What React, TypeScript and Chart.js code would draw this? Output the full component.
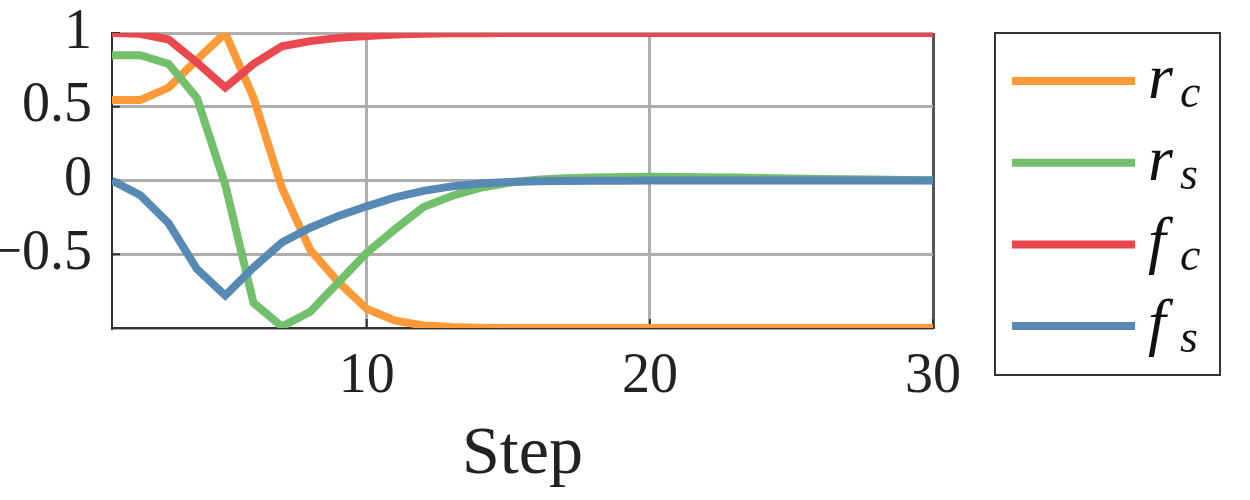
import React, { useEffect, useRef } from 'react';
import { Chart, registerables } from 'chart.js';

Chart.register(...registerables);

const steps = [1, 2, 3, 4, 5, 6, 7, 8, 9, 10, 11, 12, 13, 14, 15, 16, 17, 18, 19, 20, 21, 22, 23, 24, 25, 26, 27, 28, 29, 30];

const rC = [0.545, 0.545, 0.63, 0.82, 1.0, 0.56, -0.05, -0.47, -0.69, -0.87, -0.95, -0.983, -0.994, -0.998, -1, -1, -1, -1, -1, -1, -1, -1, -1, -1, -1, -1, -1, -1, -1, -1];
const rS = [0.85, 0.85, 0.79, 0.56, -0.03, -0.83, -0.99, -0.89, -0.69, -0.49, -0.33, -0.18, -0.105, -0.05, -0.015, 0.005, 0.015, 0.02, 0.024, 0.025, 0.024, 0.022, 0.02, 0.017, 0.014, 0.011, 0.008, 0.006, 0.004, 0.002];
const fC = [1.0, 0.995, 0.956, 0.8, 0.63, 0.79, 0.91, 0.945, 0.967, 0.98, 0.99, 0.995, 0.998, 0.999, 1, 1, 1, 1, 1, 1, 1, 1, 1, 1, 1, 1, 1, 1, 1, 1];
const fS = [0, -0.1, -0.29, -0.6, -0.78, -0.59, -0.42, -0.32, -0.24, -0.175, -0.115, -0.07, -0.04, -0.02, -0.01, -0.005, -0.003, -0.002, -0.001, 0, 0, 0, 0, 0, 0, 0, 0, 0, 0, 0];

const seriesNames = ['r_c', 'r_s', 'f_c', 'f_s'];
const seriesValues = [rC, rS, fC, fS];
const seriesColors = ['#fd9a37', '#72bf6c', '#e8484e', '#5689b3'];

const xTicks = [10, 20, 30];
const yTicks = [-0.5, 0, 0.5, 1];
const xAxisTitle = 'Step';

const SERIF = '"Liberation Serif"';
Chart.defaults.font.family = SERIF;

const innerTicksPlugin = {
  id: 'innerTicks',
  beforeDatasetsDraw(chart: any) {
    const { ctx, chartArea, scales } = chart;
    ctx.save();
    ctx.strokeStyle = '#333';
    ctx.lineWidth = 2;
    ctx.beginPath();
    yTicks.forEach((v) => {
      const y = scales.y.getPixelForValue(v);
      ctx.moveTo(chartArea.left, y);
      ctx.lineTo(chartArea.left + 8, y);
    });
    xTicks.forEach((v) => {
      const x = scales.x.getPixelForValue(v);
      ctx.moveTo(x, chartArea.bottom);
      ctx.lineTo(x, chartArea.bottom - 9);
    });
    ctx.stroke();
    ctx.restore();
  },
};

const mathLegendPlugin = {
  id: 'mathLegend',
  afterDraw(chart: any) {
    const { ctx, chartArea } = chart;
    ctx.save();
    const boxL = chartArea.right + 62;
    const boxT = chartArea.top;
    const boxR = boxL + 225;
    const boxB = boxT + 342;
    ctx.fillStyle = '#fff';
    ctx.fillRect(boxL, boxT, boxR - boxL, boxB - boxT);
    ctx.strokeStyle = '#333';
    ctx.lineWidth = 2;
    ctx.strokeRect(boxL, boxT, boxR - boxL, boxB - boxT);
    chart.data.datasets.forEach((ds: any, i: number) => {
      const y = boxT + 48 + i * 81.7;
      ctx.strokeStyle = ds.borderColor;
      ctx.lineWidth = 8;
      ctx.beginPath();
      ctx.moveTo(boxL + 17, y);
      ctx.lineTo(boxL + 140, y);
      ctx.stroke();
      const [base, sub] = String(ds.label).split('_');
      ctx.fillStyle = '#111';
      ctx.textBaseline = 'alphabetic';
      ctx.textAlign = 'left';
      ctx.font = 'italic 64px "Liberation Serif"';
      ctx.fillText(base, boxL + 153, y + 17);
      ctx.font = 'italic 46px "Liberation Serif"';
      ctx.fillText(sub, boxL + 185, y + 26);
    });
    ctx.restore();
  },
};

export default function App() {
  const canvasRef = useRef<HTMLCanvasElement | null>(null);

  useEffect(() => {
    if (!canvasRef.current) return;
    const chart = new Chart(canvasRef.current, {
      type: 'line',
      data: {
        datasets: seriesNames.map((name, i) => ({
          label: name,
          data: steps.map((s, j) => ({ x: s, y: seriesValues[i][j] })),
          borderColor: seriesColors[i],
          backgroundColor: seriesColors[i],
          borderWidth: 8,
          pointRadius: 0,
          tension: 0,
          order: 4 - i,
          borderJoinStyle: 'miter' as const,
        })),
      },
      options: {
        animation: false,
        responsive: false,
        layout: { padding: { left: 0, top: 33, right: 317, bottom: 0 } },
        plugins: {
          legend: { display: false },
          tooltip: { enabled: false },
        },
        scales: {
          x: {
            type: 'linear',
            min: 1,
            max: 30,
            afterBuildTicks: (scale: any) => {
              scale.ticks = xTicks.map((v) => ({ value: v }));
            },
            afterFit: (scale: any) => {
              scale.height = 172;
              scale.paddingLeft = 0;
              scale.paddingRight = 0;
            },
            grid: {
              drawTicks: false,
              color: (c: any) => (c.tick && c.tick.value === 30 ? '#555' : '#aeaeae'),
              lineWidth: 3,
            },
            border: { display: true, color: '#333', width: 2 },
            ticks: {
              padding: 16,
              color: '#222',
              font: { family: SERIF, size: 56 },
              maxRotation: 0,
              callback: (v: any) => String(v),
            },
            title: {
              display: true,
              text: xAxisTitle,
              color: '#222',
              font: { family: SERIF, size: 68 },
              padding: { top: 0, bottom: 4 },
            },
          },
          y: {
            type: 'linear',
            min: -1,
            max: 1,
            afterBuildTicks: (scale: any) => {
              scale.ticks = [-1, ...yTicks].map((v) => ({ value: v }));
            },
            afterFit: (scale: any) => {
              scale.width = 112;
              scale.paddingTop = 0;
              scale.paddingBottom = 0;
            },
            grid: {
              drawTicks: false,
              color: '#aeaeae',
              lineWidth: 3,
            },
            border: { display: true, color: '#333', width: 2 },
            ticks: {
              padding: 20,
              color: '#222',
              font: { family: SERIF, size: 56 },
              callback: (v: any) => (v === -1 ? '' : v < 0 ? '\u2212' + String(Math.abs(v)) : String(v)),
            },
          },
        },
      },
      plugins: [innerTicksPlugin, mathLegendPlugin],
    } as any);
    return () => chart.destroy();
  }, []);

  return (
    <div style={{ position: 'fixed', left: 0, top: 0, width: 1250, height: 500, background: '#fff' }}>
      <canvas ref={canvasRef} width={1250} height={500} />
    </div>
  );
}
